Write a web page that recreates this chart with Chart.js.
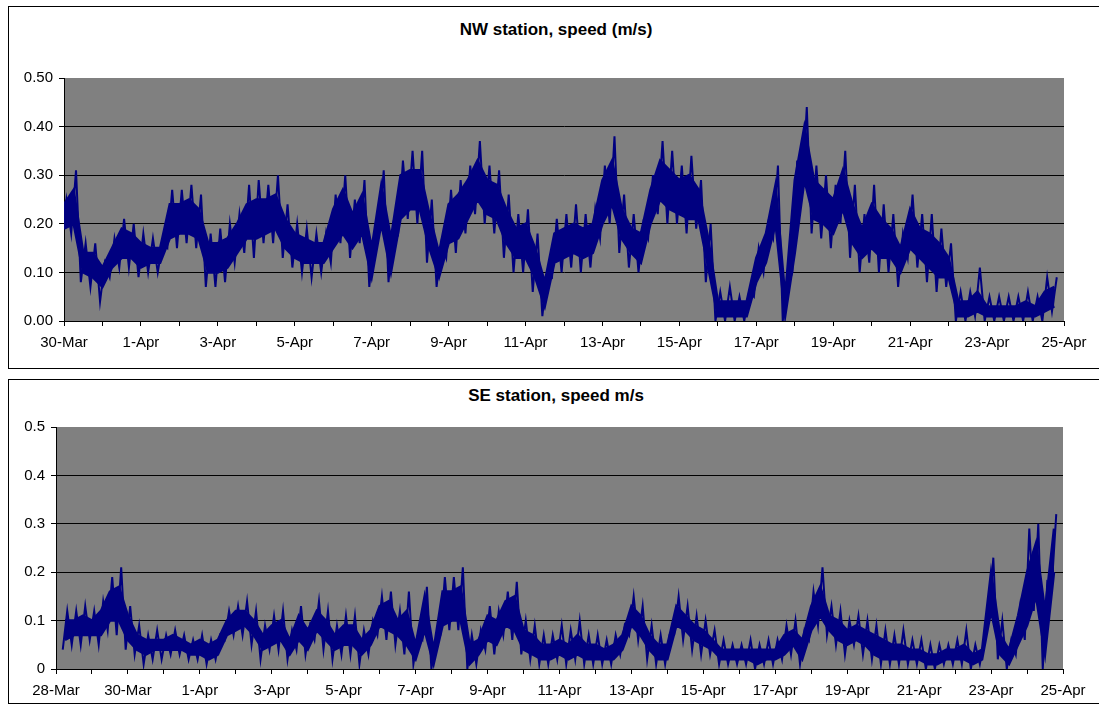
<!DOCTYPE html>
<html>
<head>
<meta charset="utf-8">
<script src="https://cdn.jsdelivr.net/npm/chart.js@4.4.1/dist/chart.umd.min.js"></script>
<style>
    body { margin: 0; background: #fff; font-family: "Liberation Sans", Arial, sans-serif; }
    .frame { position: absolute; left: 8px; width: 1100px; border: 1px solid #000; box-sizing: border-box; }
    .title { position: absolute; left: 8px; width: 1096px; text-align: center; font-weight: bold; font-size: 17px; line-height: 18px; color: #000; }
    canvas { position: absolute; left: 0; }
</style>
</head>
<body>
<div class="frame" style="top: 6px; height: 363px;"></div>
<div class="frame" style="top: 379px; height: 325px;"></div>
<div class="title" style="top: 21px;">NW station, speed (m/s)</div>
<div class="title" style="top: 387px;">SE station, speed m/s</div>
<canvas id="nwChart" width="1099" height="375" style="top: 0;"></canvas>
<canvas id="seChart" width="1099" height="330" style="top: 375px;"></canvas>
<script>
// Current speed, two stations
// Every 6 hours: the dense part of the trace (core) and the spike extremes (lo/hi)

const STEP = 0.25; // days between readings
const NAVY = '#000080';
const FONT = '"Liberation Sans", Arial, sans-serif';

// NW station: readings from 30-Mar 00:00 (day 0)
const nwStart = 0;
const nwLo = [
    0.17, 0.18, 0.08, 0.07,  0.04, 0.09, 0.11, 0.11,  0.09, 0.10, 0.10, 0.15,
    0.15, 0.16, 0.15, 0.07,  0.07, 0.08, 0.12, 0.14,  0.13, 0.16, 0.16, 0.13,
    0.11, 0.10, 0.09, 0.10,  0.12, 0.16, 0.13, 0.16,  0.07, 0.18, 0.08, 0.18,
    0.21, 0.20, 0.12, 0.07,  0.13, 0.14, 0.18, 0.22,  0.20, 0.18, 0.13, 0.10,
    0.10, 0.06, 0.01, 0.09,  0.10, 0.11, 0.10, 0.11,  0.17, 0.20, 0.14, 0.11,
    0.10, 0.17, 0.22, 0.20,  0.20, 0.18, 0.19, 0.08,  0.00, 0.00, 0.00, 0.00,
    0.05, 0.10, 0.17, 0.00,  0.10, 0.26, 0.18, 0.17,  0.15, 0.20, 0.13, 0.10,
    0.12, 0.10, 0.10, 0.07,  0.13, 0.11, 0.08, 0.06,  0.07, 0.00, 0.00, 0.01,
    0.00, 0.00, 0.00, 0.00,  0.00, 0.00, 0.00, 0.02
];
const nwHi = [
    0.25, 0.31, 0.16, 0.16,  0.12, 0.17, 0.21, 0.20,  0.18, 0.17, 0.16, 0.27,
    0.27, 0.28, 0.26, 0.18,  0.19, 0.20, 0.22, 0.28,  0.29, 0.28, 0.30, 0.24,
    0.20, 0.19, 0.18, 0.18,  0.26, 0.30, 0.25, 0.29,  0.17, 0.31, 0.20, 0.33,
    0.35, 0.35, 0.25, 0.16,  0.27, 0.29, 0.32, 0.37,  0.32, 0.31, 0.26, 0.22,
    0.23, 0.18, 0.10, 0.21,  0.22, 0.24, 0.22, 0.23,  0.32, 0.38, 0.26, 0.22,
    0.20, 0.30, 0.37, 0.35,  0.32, 0.34, 0.29, 0.20,  0.06, 0.07, 0.05, 0.06,
    0.15, 0.20, 0.32, 0.07,  0.33, 0.44, 0.32, 0.30,  0.28, 0.35, 0.28, 0.22,
    0.28, 0.24, 0.22, 0.18,  0.26, 0.22, 0.22, 0.19,  0.16, 0.06, 0.06, 0.11,
    0.05, 0.05, 0.05, 0.05,  0.06, 0.05, 0.09, 0.09
];
const nwCoreLo = [
    0.19, 0.20, 0.10, 0.09,  0.07, 0.11, 0.13, 0.13,  0.11, 0.12, 0.12, 0.17,
    0.18, 0.18, 0.17, 0.10,  0.10, 0.11, 0.14, 0.17,  0.17, 0.18, 0.19, 0.15,
    0.13, 0.12, 0.12, 0.12,  0.15, 0.18, 0.15, 0.18,  0.09, 0.20, 0.10, 0.21,
    0.23, 0.23, 0.15, 0.09,  0.16, 0.17, 0.21, 0.25,  0.22, 0.21, 0.16, 0.13,
    0.13, 0.09, 0.03, 0.12,  0.13, 0.14, 0.13, 0.14,  0.20, 0.24, 0.17, 0.14,
    0.12, 0.20, 0.25, 0.23,  0.22, 0.21, 0.21, 0.11,  0.01, 0.01, 0.01, 0.01,
    0.08, 0.12, 0.20, 0.01,  0.14, 0.29, 0.21, 0.20,  0.18, 0.23, 0.16, 0.13,
    0.15, 0.13, 0.13, 0.10,  0.15, 0.13, 0.11, 0.09,  0.09, 0.01, 0.01, 0.02,
    0.01, 0.01, 0.01, 0.01,  0.01, 0.01, 0.02, 0.03
];
const nwCoreHi = [
    0.24, 0.27, 0.14, 0.14,  0.11, 0.15, 0.19, 0.18,  0.16, 0.15, 0.15, 0.24,
    0.24, 0.25, 0.23, 0.16,  0.16, 0.17, 0.20, 0.24,  0.25, 0.25, 0.26, 0.21,
    0.18, 0.17, 0.16, 0.16,  0.23, 0.27, 0.22, 0.26,  0.15, 0.28, 0.17, 0.30,
    0.31, 0.31, 0.22, 0.14,  0.24, 0.26, 0.29, 0.33,  0.29, 0.28, 0.23, 0.19,
    0.20, 0.15, 0.08, 0.18,  0.19, 0.20, 0.19, 0.20,  0.29, 0.33, 0.23, 0.19,
    0.18, 0.27, 0.33, 0.31,  0.29, 0.30, 0.27, 0.17,  0.04, 0.04, 0.04, 0.04,
    0.13, 0.18, 0.28, 0.05,  0.29, 0.40, 0.29, 0.27,  0.25, 0.31, 0.24, 0.19,
    0.24, 0.21, 0.19, 0.15,  0.23, 0.19, 0.18, 0.16,  0.13, 0.04, 0.04, 0.06,
    0.03, 0.03, 0.03, 0.03,  0.04, 0.03, 0.06, 0.07
];
const nwDateLabels = ['30-Mar', '1-Apr', '3-Apr', '5-Apr', '7-Apr', '9-Apr', '11-Apr',
    '13-Apr', '15-Apr', '17-Apr', '19-Apr', '21-Apr', '23-Apr', '25-Apr'];
const nwYLabels = ['0.00', '0.10', '0.20', '0.30', '0.40', '0.50'];

// SE station: readings from 28-Mar 06:00 (day 0.25)
const seStart = 0.25;
const seLo = [
    0.04, 0.05, 0.05,
    0.06, 0.05, 0.08, 0.07,  0.04, 0.03, 0.01, 0.02,  0.02, 0.03, 0.03, 0.02,
    0.02, 0.01, 0.02, 0.06,  0.07, 0.07, 0.05, 0.02,  0.04, 0.04, 0.02, 0.04,
    0.03, 0.06, 0.04, 0.02,  0.03, 0.03, 0.01, 0.03,  0.07, 0.06, 0.05, 0.03,
    0.01, 0.06, 0.00, 0.07,  0.08, 0.08, 0.00, 0.01,  0.04, 0.03, 0.07, 0.06,
    0.03, 0.02, 0.01, 0.01,  0.02, 0.01, 0.02, 0.01,  0.01, 0.01, 0.01, 0.03,
    0.07, 0.06, 0.02, 0.01,  0.01, 0.07, 0.06, 0.04,  0.03, 0.03, 0.01, 0.01,
    0.01, 0.01, 0.00, 0.01,  0.01, 0.02, 0.03, 0.01,  0.06, 0.09, 0.07, 0.05,
    0.03, 0.05, 0.03, 0.02,  0.01, 0.01, 0.01, 0.01,  0.01, 0.00, 0.00, 0.01,
    0.01, 0.01, 0.00, 0.01,  0.10, 0.02, 0.00, 0.03,  0.06, 0.12, 0.00, 0.17
];
const seHi = [
    0.12, 0.12, 0.13,
    0.12, 0.14, 0.19, 0.21,  0.13, 0.09, 0.07, 0.08,  0.07, 0.08, 0.07, 0.06,
    0.07, 0.06, 0.07, 0.12,  0.13, 0.14, 0.12, 0.09,  0.11, 0.12, 0.08, 0.13,
    0.09, 0.14, 0.12, 0.09,  0.11, 0.11, 0.08, 0.10,  0.15, 0.16, 0.12, 0.16,
    0.07, 0.17, 0.06, 0.19,  0.19, 0.21, 0.07, 0.08,  0.13, 0.12, 0.16, 0.18,
    0.10, 0.09, 0.07, 0.07,  0.09, 0.08, 0.10, 0.07,  0.07, 0.06, 0.07, 0.09,
    0.15, 0.13, 0.09, 0.07,  0.07, 0.15, 0.13, 0.11,  0.10, 0.08, 0.06, 0.05,
    0.05, 0.06, 0.05, 0.06,  0.06, 0.09, 0.10, 0.08,  0.16, 0.21, 0.13, 0.12,
    0.10, 0.11, 0.10, 0.09,  0.08, 0.07, 0.08, 0.06,  0.06, 0.05, 0.05, 0.05,
    0.06, 0.08, 0.05, 0.06,  0.23, 0.10, 0.06, 0.13,  0.29, 0.30, 0.18, 0.32
];
const seCoreLo = [
    0.06, 0.07, 0.07,
    0.07, 0.07, 0.10, 0.10,  0.06, 0.04, 0.03, 0.04,  0.04, 0.04, 0.04, 0.03,
    0.03, 0.02, 0.03, 0.07,  0.08, 0.09, 0.07, 0.04,  0.05, 0.06, 0.03, 0.06,
    0.04, 0.08, 0.06, 0.04,  0.05, 0.05, 0.03, 0.05,  0.09, 0.08, 0.07, 0.05,
    0.02, 0.08, 0.01, 0.09,  0.10, 0.10, 0.01, 0.03,  0.06, 0.05, 0.09, 0.08,
    0.04, 0.03, 0.02, 0.02,  0.03, 0.02, 0.03, 0.02,  0.02, 0.02, 0.02, 0.04,
    0.09, 0.07, 0.04, 0.02,  0.02, 0.09, 0.08, 0.06,  0.05, 0.04, 0.02, 0.02,
    0.02, 0.02, 0.01, 0.02,  0.02, 0.03, 0.05, 0.02,  0.08, 0.11, 0.08, 0.06,
    0.05, 0.06, 0.05, 0.03,  0.02, 0.02, 0.02, 0.02,  0.02, 0.01, 0.01, 0.02,
    0.02, 0.02, 0.01, 0.02,  0.12, 0.03, 0.01, 0.05,  0.09, 0.15, 0.03, 0.20
];
const seCoreHi = [
    0.10, 0.10, 0.11,
    0.10, 0.12, 0.16, 0.17,  0.11, 0.07, 0.06, 0.06,  0.06, 0.07, 0.06, 0.05,
    0.06, 0.05, 0.06, 0.10,  0.12, 0.12, 0.10, 0.07,  0.09, 0.10, 0.06, 0.11,
    0.08, 0.12, 0.10, 0.07,  0.09, 0.09, 0.06, 0.08,  0.13, 0.14, 0.10, 0.12,
    0.05, 0.15, 0.04, 0.16,  0.16, 0.17, 0.05, 0.06,  0.11, 0.10, 0.14, 0.15,
    0.08, 0.07, 0.05, 0.05,  0.06, 0.05, 0.07, 0.05,  0.05, 0.04, 0.05, 0.07,
    0.13, 0.11, 0.07, 0.05,  0.05, 0.13, 0.11, 0.09,  0.08, 0.06, 0.04, 0.04,
    0.04, 0.04, 0.04, 0.04,  0.04, 0.07, 0.08, 0.06,  0.13, 0.17, 0.11, 0.10,
    0.08, 0.09, 0.08, 0.07,  0.06, 0.05, 0.05, 0.04,  0.04, 0.03, 0.03, 0.04,
    0.04, 0.05, 0.03, 0.04,  0.20, 0.07, 0.04, 0.11,  0.20, 0.26, 0.12, 0.29
];
const seDateLabels = ['28-Mar', '30-Mar', '1-Apr', '3-Apr', '5-Apr', '7-Apr', '9-Apr', '11-Apr',
    '13-Apr', '15-Apr', '17-Apr', '19-Apr', '21-Apr', '23-Apr', '25-Apr'];
const seYLabels = ['0', '0.1', '0.2', '0.3', '0.4', '0.5'];

// Grey plot area like the spreadsheet chart
const plotBg = {
    id: 'plotBg',
    beforeDraw(chart) {
        const a = chart.chartArea;
        const c = chart.ctx;
        c.save();
        c.fillStyle = '#808080';
        c.fillRect(a.left, a.top, a.right - a.left, a.bottom - a.top);
        c.restore();
    }
};

function buildChart(id, o) {
    const pts = arr => arr.map((v, i) => ({ x: o.start + i * STEP, y: v }));
    // spikes: low extreme just before the reading time, high extreme just after
    const spikes = [];
    o.lo.forEach((v, i) => {
        spikes.push({ x: o.start + (i - 0.25) * STEP, y: v });
        spikes.push({ x: o.start + (i + 0.25) * STEP, y: o.hi[i] });
    });
    const tickFont = { family: FONT, size: 15 };

    return new Chart(document.getElementById(id), {
        type: 'line',
        data: {
            datasets: [
                { data: pts(o.coreHi), borderColor: NAVY, backgroundColor: NAVY, borderWidth: 2.5,
                  pointRadius: 0, fill: '+1', tension: 0 },
                { data: pts(o.coreLo), borderColor: NAVY, backgroundColor: NAVY, borderWidth: 2.5,
                  pointRadius: 0, fill: false, tension: 0 },
                { data: spikes, borderColor: NAVY, borderWidth: 2,
                  pointRadius: 0, fill: false, tension: 0 }
            ]
        },
        options: {
            responsive: false,
            animation: false,
            devicePixelRatio: 1,
            layout: { padding: o.padding },
            plugins: { legend: { display: false }, tooltip: { enabled: false } },
            scales: {
                x: {
                    type: 'linear', min: 0, max: o.days,
                    afterFit: s => { s.height = 30; },
                    grid: { drawOnChartArea: false, color: '#000', tickColor: '#000', tickLength: 5 },
                    border: { color: '#000', width: 1 },
                    ticks: {
                        stepSize: 1, autoSkip: false, maxRotation: 0, padding: 8, color: '#000', font: tickFont,
                        callback: v => {
                            const d = Math.round(v);
                            return d % 2 === 0 ? o.dateLabels[d / 2] : '';
                        }
                    }
                },
                y: {
                    min: 0, max: 0.5,
                    afterFit: s => { s.width = o.yWidth; },
                    grid: {
                        color: c => (c.tick && c.tick.value > 0.45) ? '#808080' : '#000',
                        tickColor: '#000', tickLength: 5
                    },
                    border: { color: '#000', width: 1 },
                    ticks: {
                        stepSize: 0.1, padding: 6, color: '#000', font: tickFont,
                        callback: (v, i) => o.yLabels[i]
                    }
                }
            }
        },
        plugins: [plotBg]
    });
}

buildChart('nwChart', {
    start: nwStart, lo: nwLo, hi: nwHi, coreLo: nwCoreLo, coreHi: nwCoreHi, days: 26,
    dateLabels: nwDateLabels, yLabels: nwYLabels,
    yWidth: 64, padding: { top: 78, right: 35, bottom: 24, left: 0 }
});

buildChart('seChart', {
    start: seStart, lo: seLo, hi: seHi, coreLo: seCoreLo, coreHi: seCoreHi, days: 28,
    dateLabels: seDateLabels, yLabels: seYLabels,
    yWidth: 56, padding: { top: 52, right: 36, bottom: 6, left: 0 }
});
</script>
</body>
</html>
